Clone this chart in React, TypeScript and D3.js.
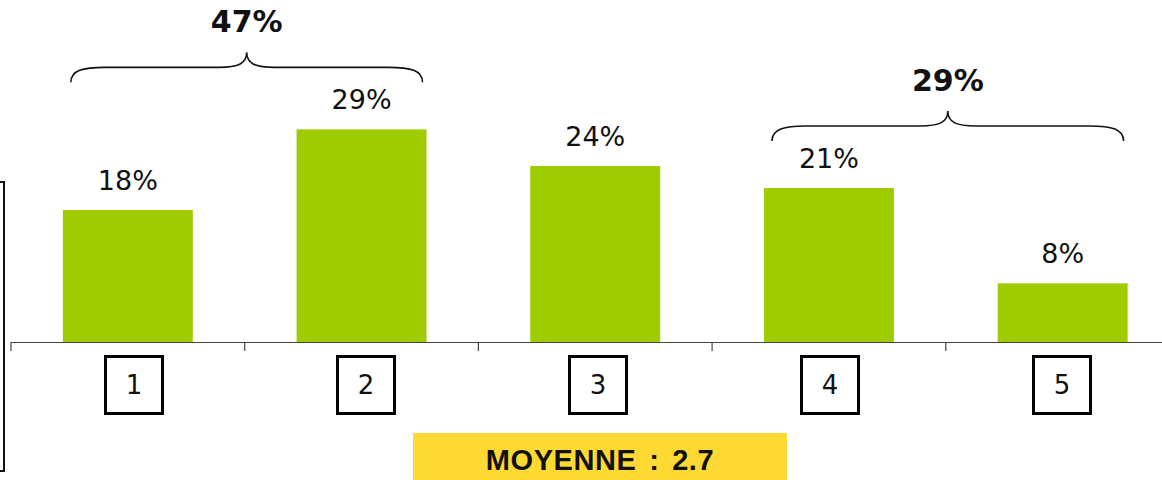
import React from "react";
import * as d3 from "d3";

const categories = ["1", "2", "3", "4", "5"];
const values = [18, 29, 24, 21, 8];
const groups = [
  { from: "1", to: "2" },
  { from: "4", to: "5" },
];
const meanLabel = "MOYENNE : 2.7";

const W = 1162;
const H = 480;
const baseY = 342;

const App: React.FC = () => {
  const x = d3
    .scaleBand<string>()
    .domain(categories)
    .range([11, 11 + 5 * 233.7])
    .paddingInner(0.444)
    .paddingOuter(0.222);

  const y = d3.scaleLinear().domain([0, 30]).range([baseY, baseY - 220]);

  // number boxes are slightly off the band centres in the original
  const boxX = d3.scalePoint<string>().domain(categories).range([134, 1062]);

  const bw = x.bandwidth();
  const gap = (x.step() - bw) / 2;
  const valueOf = (c: string) => values[categories.indexOf(c)];

  const bracePath = (x1: number, x2: number, yEnd: number) => {
    const yFlat = yEnd - 15;
    const yPeak = yEnd - 30;
    const mid = (x1 + x2) / 2;
    return [
      `M${x1},${yEnd}`,
      `C${x1},${yFlat + 3} ${x1 + 12},${yFlat} ${x1 + 34},${yFlat}`,
      `H${mid - 28}`,
      `C${mid - 8},${yFlat} ${mid},${yFlat - 4} ${mid},${yPeak}`,
      `C${mid},${yFlat - 4} ${mid + 8},${yFlat} ${mid + 28},${yFlat}`,
      `H${x2 - 34}`,
      `C${x2 - 12},${yFlat} ${x2},${yFlat + 3} ${x2},${yEnd}`,
    ].join(" ");
  };

  return (
    <svg
      width={W}
      height={H}
      style={{ position: "absolute", left: 0, top: 0, display: "block", background: "#fff" }}
    >
      {/* left frame edge */}
      <path d="M0,182 H4 V471 H0" fill="none" stroke="#111" strokeWidth={2} />

      {/* bars */}
      {categories.map((c, i) => (
        <g key={c}>
          <rect x={x(c)} y={y(values[i])} width={bw} height={baseY - y(values[i])} fill="#9ECC00" />
          <text
            x={(x(c) as number) + bw / 2}
            y={y(values[i]) - 20}
            textAnchor="middle"
            fontFamily="DejaVu Sans"
            fontSize={27}
            fill="#111"
          >
            {values[i]}%
          </text>
        </g>
      ))}

      {/* axis */}
      <line x1={11} x2={W} y1={baseY + 0.5} y2={baseY + 0.5} stroke="#444" strokeWidth={1.2} />
      {categories.map((c) => (
        <line
          key={"t" + c}
          x1={(x(c) as number) - gap}
          x2={(x(c) as number) - gap}
          y1={baseY}
          y2={baseY + 9}
          stroke="#444"
          strokeWidth={1.2}
        />
      ))}

      {/* number boxes */}
      {categories.map((c) => (
        <g key={"b" + c} transform={`translate(${boxX(c)},${385})`}>
          <rect x={-28.5} y={-28.5} width={57} height={57} fill="#fff" stroke="#000" strokeWidth={3} />
          <text y={9} textAnchor="middle" fontFamily="DejaVu Sans" fontSize={26} fill="#111">
            {c}
          </text>
        </g>
      ))}

      {/* braces with group totals */}
      {groups.map((g) => {
        const x1 = (x(g.from) as number) + 8;
        const x2 = (x(g.to) as number) + bw - 4;
        const yEnd = y(Math.max(valueOf(g.from), valueOf(g.to))) - 47;
        const total = valueOf(g.from) + valueOf(g.to);
        return (
          <g key={"g" + g.from}>
            <path d={bracePath(x1, x2, yEnd)} fill="none" stroke="#111" strokeWidth={1.6} />
            <text
              x={(x1 + x2) / 2}
              y={yEnd - 50}
              textAnchor="middle"
              fontFamily="DejaVu Sans"
              fontWeight="bold"
              fontSize={30}
              fill="#111"
            >
              {total}%
            </text>
          </g>
        );
      })}

      {/* mean */}
      <rect x={413} y={433} width={374} height={50} fill="#FFD933" />
      <text
        x={600}
        y={470}
        textAnchor="middle"
        fontFamily="Liberation Sans"
        fontWeight="bold"
        fontSize={29}
        letterSpacing={0.6}
        wordSpacing={4}
        fill="#111"
      >
        {meanLabel}
      </text>
    </svg>
  );
};

export default App;
